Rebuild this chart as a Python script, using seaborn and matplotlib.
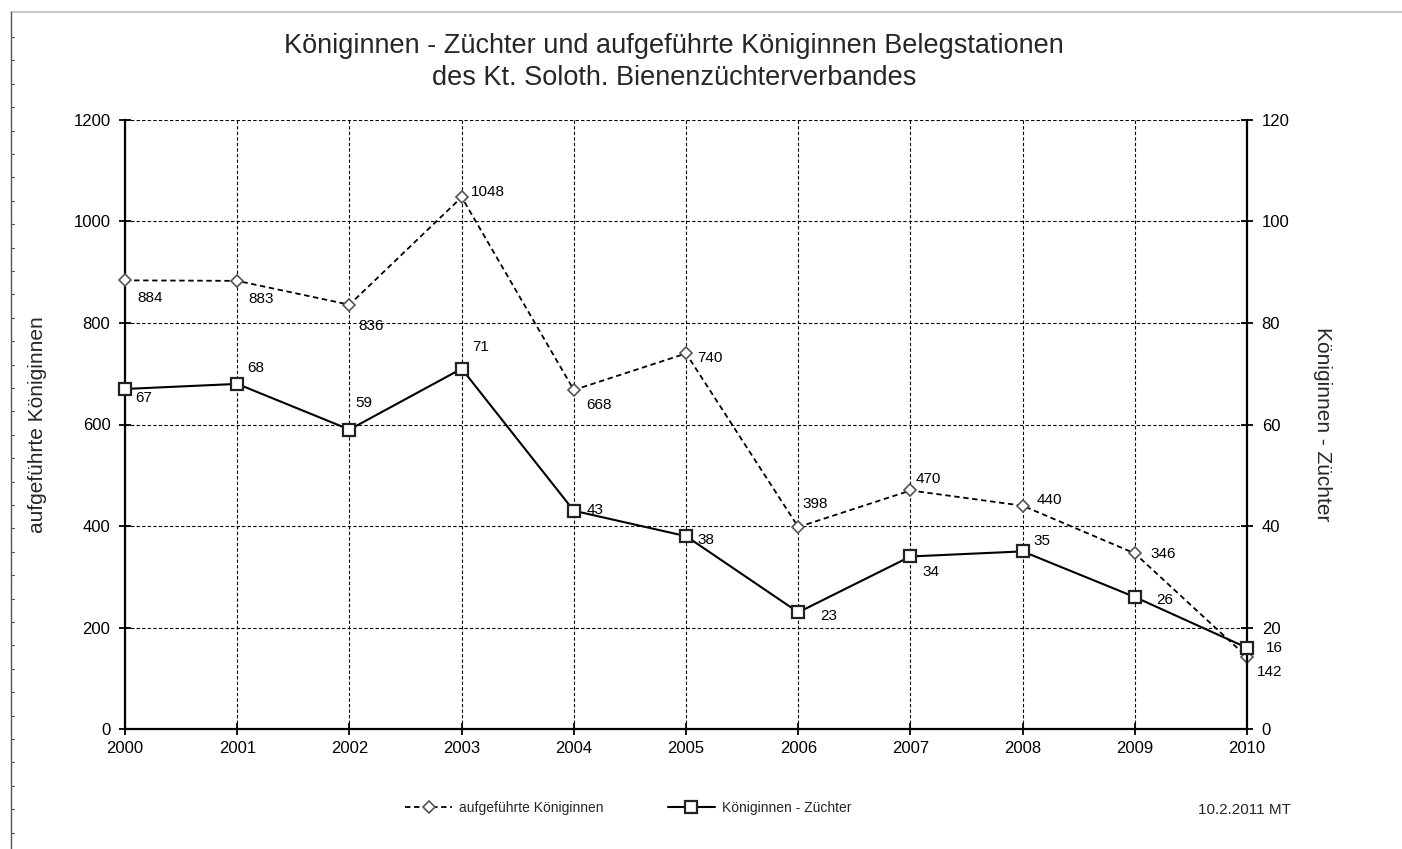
import matplotlib
matplotlib.use("Agg")
import matplotlib.pyplot as plt
from matplotlib.lines import Line2D
import numpy as np
import seaborn as sns

# ----- data -----
years = [2000, 2001, 2002, 2003, 2004, 2005, 2006, 2007, 2008, 2009, 2010]
koeniginnen = [884, 883, 836, 1048, 668, 740, 398, 470, 440, 346, 142]
zuechter = [67, 68, 59, 71, 43, 38, 23, 34, 35, 26, 16]

left_ticks = [0, 200, 400, 600, 800, 1000, 1200]
right_ticks = [0, 20, 40, 60, 80, 100, 120]

# label offsets in pixels (placement only)
off_koen = [(12, -18), (11, -18), (9, -21), (9, 5), (12, -15), (11, -5),
            (4, 23), (5, 11), (14, 6), (16, -1), (10, -15)]
off_zuech = [(10, -9), (10, 16), (6, 27), (11, 22), (13, 1), (11, -4),
             (22, -4), (12, -16), (11, 10), (21, -3), (19, 0)]

sns.set_theme(style="white")
plt.rcParams["font.family"] = ["Liberation Sans", "DejaVu Sans"]

fig = plt.figure(figsize=(14.02, 8.49), dpi=100)
ax = fig.add_axes([0.0892, 0.1413, 0.8003, 0.7174])
ax2 = ax.twinx()

sns.lineplot(x=years, y=koeniginnen, ax=ax, color="black", linestyle=(0, (3, 2)),
             linewidth=1.3, marker="D", markersize=6, markerfacecolor="white",
             markeredgecolor="#555555", markeredgewidth=1.2, label="aufgeführte Königinnen",
             zorder=4, clip_on=False)
sns.lineplot(x=years, y=zuechter, ax=ax2, color="black", linewidth=1.5,
             marker="s", markersize=9, markerfacecolor="white",
             markeredgecolor="#222222", markeredgewidth=1.6, label="Königinnen - Züchter",
             zorder=4, clip_on=False)

ax.set_xlim(2000, 2010)
ax.set_ylim(0, 1200)
ax2.set_ylim(0, 120)
ax.set_xticks(years)
ax.set_yticks(left_ticks)
ax2.set_yticks(right_ticks)

ax.grid(True, color="black", linestyle=(0, (3, 2)), linewidth=0.8)
ax2.grid(False)

for a in (ax, ax2):
    for s in a.spines.values():
        s.set_visible(False)
ax.spines["left"].set_visible(True)
ax.spines["bottom"].set_visible(True)
ax2.spines["right"].set_visible(True)
for s in (ax.spines["left"], ax.spines["bottom"], ax2.spines["right"]):
    s.set_color("black")
    s.set_linewidth(1.6)

ax.tick_params(axis="both", direction="inout", length=9, width=1.3, color="black",
               labelsize=12, labelcolor="black", left=True, bottom=True, pad=4)
ax.tick_params(axis="y", pad=6)
ax2.tick_params(axis="y", direction="inout", length=9, width=1.3, color="black",
                labelsize=12, labelcolor="black", right=True, pad=6)

ax.set_ylabel("aufgeführte Königinnen", fontsize=15, va="center")
ax2.set_ylabel("Königinnen - Züchter", fontsize=15, rotation=270, va="center")
ax.yaxis.set_label_coords(-0.0784, 0.5)
ax2.yaxis.set_label_coords(1.0668, 0.5)

for x, y, off in zip(years, koeniginnen, off_koen):
    ax.annotate(str(y), (x, y), xytext=off, textcoords="offset pixels",
                ha="left", va="center", fontsize=11, color="black", zorder=6)
for x, y, off in zip(years, zuechter, off_zuech):
    ax2.annotate(str(y), (x, y), xytext=off, textcoords="offset pixels",
                 ha="left", va="center", fontsize=11, color="black", zorder=6)

ax.get_legend().remove()
ax2.get_legend().remove()
h1, l1 = ax.get_legend_handles_labels()
h2, l2 = ax2.get_legend_handles_labels()
fig.legend(h1 + h2, l1 + l2, loc="center", bbox_to_anchor=(0.448, 0.048), ncol=2,
           frameon=False, fontsize=10, handlelength=3.4, handletextpad=0.5,
           columnspacing=4.6)

fig.text(0.481, 1 - 62 / 849,
         "Königinnen - Züchter und aufgeführte Königinnen Belegstationen\n"
         "des Kt. Soloth. Bienenzüchterverbandes",
         ha="center", va="center", fontsize=19.5, linespacing=1.34)
fig.text(0.888, 0.046, "10.2.2011 MT", ha="center", va="center", fontsize=11)

# page frame (top and left edge)
fig.add_artist(Line2D([11 / 1402, 1], [1 - 12 / 849, 1 - 12 / 849], color="#c8c8c8",
                      linewidth=1.5, transform=fig.transFigure))
fig.add_artist(Line2D([11 / 1402, 11 / 1402], [0, 1 - 12 / 849], color="#555555",
                      linewidth=1.0, transform=fig.transFigure))
for yy in np.arange(37, 849, 23.4):
    fig.add_artist(Line2D([11 / 1402, 14 / 1402], [1 - yy / 849, 1 - yy / 849],
                          color="#555555", linewidth=0.8, transform=fig.transFigure))

fig.savefig("out.png", dpi=100)
